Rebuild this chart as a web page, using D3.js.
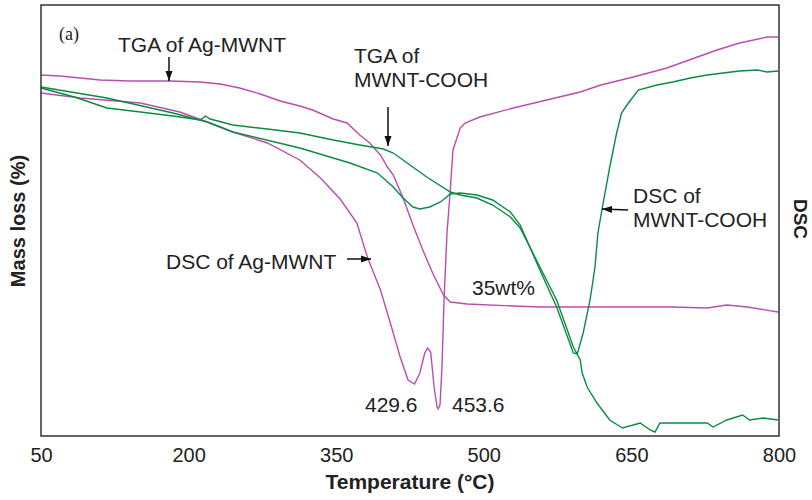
<!DOCTYPE html>
<html>
<head>
<meta charset="utf-8">
<script src="https://cdn.jsdelivr.net/npm/d3@7"></script>
<style>
  body { margin: 0; background: #fff; }
  text { fill: #222; }
</style>
</head>
<body>
<svg id="svg" width="812" height="500"></svg>
<script>
// temperature (°C), signal (arbitrary units, 0 = bottom of frame)
const tgaAg = [
  [50, 361], [69, 360], [90, 358], [110, 356], [140, 355], [181, 355], [212, 354],
  [232, 352], [252, 348], [273, 342], [293, 335], [313, 330], [326, 326], [347, 317],
  [361, 313], [374, 301], [384, 293], [395, 281], [402, 269], [408, 261], [418, 238],
  [428, 211], [438, 186], [448, 163], [459, 141], [466, 134], [483, 132], [530, 130],
  [557, 129], [598, 129], [659, 129], [692, 129], [727, 128], [747, 131], [768, 129], [799, 124]
];
const dscAg = [
  [50, 343], [90, 338], [151, 333], [191, 324], [219, 314], [245, 304], [280, 293],
  [313, 276], [334, 258], [354, 237], [371, 213], [382, 178], [395, 146], [405, 113],
  [415, 79], [423, 56], [429.6, 52], [435, 63], [440, 83], [443, 88], [446, 84],
  [449.5, 49], [452.5, 29], [453.6, 27], [455.5, 31], [457.5, 69], [459.6, 136],
  [462.6, 203], [465.7, 243], [468.7, 286], [476, 308], [481, 313], [496, 319],
  [530, 328], [564, 336], [598, 344], [619, 351], [652, 359], [686, 368], [737, 386],
  [760, 393], [788, 399], [799, 399]
];
const tgaCooh = [
  [50, 348], [84, 339], [117, 328], [151, 324], [184, 320], [212, 316], [217, 320],
  [222, 317], [245, 311], [280, 307], [313, 303], [347, 296], [374, 291], [398, 287],
  [408, 283], [425, 271], [442, 259], [466, 244], [476, 241], [493, 238], [509, 231],
  [527, 219], [537, 208], [557, 169], [574, 136], [591, 89], [598, 76], [600, 63],
  [605, 49], [615, 33], [628, 16], [641, 8], [659, 13], [669, 6], [674, 4], [679, 13],
  [699, 13], [727, 13], [733, 9], [747, 16], [763, 21], [770, 16], [784, 18], [799, 16]
];
const dscCooh = [
  [50, 349], [117, 338], [184, 323], [219, 314], [245, 304], [313, 288], [364, 273],
  [392, 263], [408, 249], [418, 238], [428, 229], [435, 227], [445, 229], [456, 234],
  [466, 242], [476, 243], [493, 241], [509, 236], [527, 224], [537, 211], [557, 166],
  [574, 129], [591, 83], [595, 82], [601, 103], [608, 136], [613, 169], [616, 203],
  [620, 226], [628, 269], [635, 303], [640, 323], [647, 333], [657, 346], [676, 351],
  [692, 354], [710, 358], [727, 361], [743, 363], [760, 365], [778, 366], [788, 364], [799, 365]
];
const xTicks = [50, 200, 350, 500, 650, 800];

const MAGENTA = "#bb4caf";
const GREEN = "#0b8a42";
const SANS = "'Liberation Sans', Arial, sans-serif";

const svg = d3.select("#svg");
const x = d3.scaleLinear().domain([50, 800]).range([41, 779]);
const y = d3.scaleLinear().domain([0, 431]).range([436, 5]);

const defs = svg.append("defs");
defs.append("marker")
  .attr("id", "arrow")
  .attr("viewBox", "0 0 10 10")
  .attr("refX", 10).attr("refY", 5)
  .attr("markerWidth", 10).attr("markerHeight", 10)
  .attr("markerUnits", "userSpaceOnUse")
  .attr("orient", "auto")
  .append("path")
  .attr("d", "M0,1.5 L10,5 L0,8.5 Z")
  .attr("fill", "#111");

const line = d3.line().x(d => x(d[0])).y(d => y(d[1]));

const series = [
  { data: tgaAg, color: MAGENTA },
  { data: dscAg, color: MAGENTA },
  { data: tgaCooh, color: GREEN },
  { data: dscCooh, color: GREEN }
];

svg.selectAll(".curve")
  .data(series)
  .join("path")
  .attr("class", "curve")
  .attr("d", d => line(d.data))
  .attr("fill", "none")
  .attr("stroke", d => d.color)
  .attr("stroke-width", 1.4);

// frame
svg.append("rect")
  .attr("x", 41).attr("y", 5)
  .attr("width", 738).attr("height", 431)
  .attr("fill", "none")
  .attr("stroke", "#333")
  .attr("stroke-width", 1.5);

const xAxis = svg.append("g")
  .attr("transform", "translate(0,436)")
  .call(d3.axisBottom(x).tickValues(xTicks).tickSize(0).tickPadding(12));
xAxis.select(".domain").remove();
xAxis.selectAll("text")
  .style("font-size", "20px")
  .style("font-family", SANS)
  .attr("fill", "#222");

svg.append("text")
  .attr("x", 410).attr("y", 489)
  .attr("text-anchor", "middle")
  .style("font-family", SANS)
  .style("font-size", "21px").style("font-weight", "bold")
  .text("Temperature (°C)");

svg.append("text")
  .attr("transform", "translate(25,221) rotate(-90)")
  .attr("text-anchor", "middle")
  .style("font-family", SANS)
  .style("font-size", "20px").style("font-weight", "bold")
  .text("Mass loss (%)");

svg.append("text")
  .attr("transform", "translate(794,219) rotate(90)")
  .attr("text-anchor", "middle")
  .style("font-family", SANS)
  .style("font-size", "19px").style("font-weight", "bold")
  .text("DSC");

svg.append("text")
  .attr("x", 59).attr("y", 40)
  .style("font-family", "'Liberation Serif', 'Times New Roman', serif")
  .style("font-size", "18px")
  .text("(a)");

const labels = [
  { x: 118, y: 52, t: "TGA of Ag-MWNT" },
  { x: 354, y: 63, t: "TGA of" },
  { x: 354, y: 87, t: "MWNT-COOH" },
  { x: 166, y: 269, t: "DSC of Ag-MWNT" },
  { x: 472, y: 295, t: "35wt%" },
  { x: 365, y: 412, t: "429.6" },
  { x: 452, y: 412, t: "453.6" },
  { x: 633, y: 203, t: "DSC of" },
  { x: 633, y: 227, t: "MWNT-COOH" }
];
svg.selectAll(".lbl")
  .data(labels)
  .join("text")
  .attr("class", "lbl")
  .attr("x", d => d.x).attr("y", d => d.y)
  .style("font-family", SANS)
  .style("font-size", "21px")
  .text(d => d.t);

const arrows = [
  { x1: 169, y1: 57, x2: 169, y2: 81 },
  { x1: 388, y1: 107, x2: 388, y2: 146 },
  { x1: 347, y1: 259, x2: 371, y2: 259 },
  { x1: 628, y1: 210, x2: 602, y2: 209 }
];
svg.selectAll(".arr")
  .data(arrows)
  .join("line")
  .attr("class", "arr")
  .attr("x1", d => d.x1).attr("y1", d => d.y1)
  .attr("x2", d => d.x2).attr("y2", d => d.y2)
  .attr("stroke", "#111")
  .attr("stroke-width", 1.5)
  .attr("marker-end", "url(#arrow)");
</script>
</body>
</html>
